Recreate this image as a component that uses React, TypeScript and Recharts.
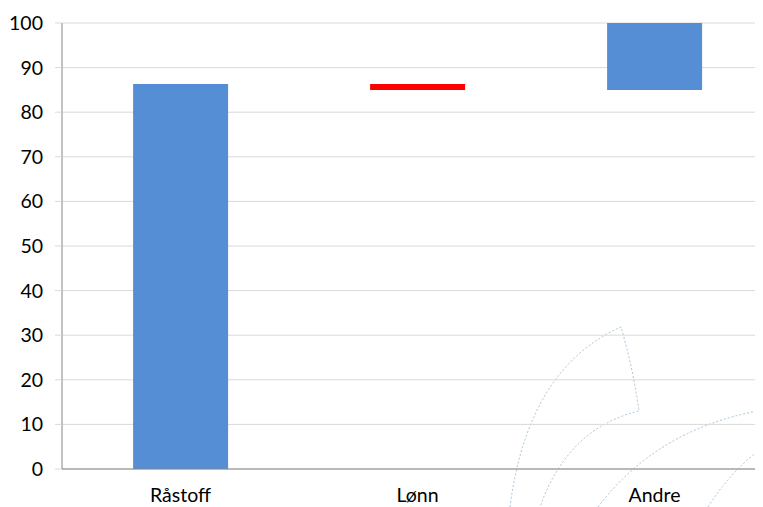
import { BarChart, Bar, XAxis, YAxis, CartesianGrid, Cell } from 'recharts';

// waterfall: invisible base + visible step
const categories = ['Råstoff', 'Lønn', 'Andre'];
const baseValues = [0, 85, 85];
const stepValues = [86.3, 1.3, 15];
const stepColors = ['#558ED5', '#FF0000', '#558ED5'];
const yTicks = [0, 10, 20, 30, 40, 50, 60, 70, 80, 90, 100];

const data = categories.map((name, i) => ({
  name,
  base: baseValues[i],
  step: stepValues[i],
}));

const font = 'Lato, "Open Sans", sans-serif';

// faint dotted watermark shapes in the lower right corner
const Watermark = () => (
  <svg
    width={755}
    height={499}
    style={{ position: 'absolute', left: 0, top: 0, pointerEvents: 'none' }}
  >
    <g fill="none" stroke="#A9C3D6" strokeWidth={1} strokeDasharray="2 2">
      <path d="M 502 499 Q 520 360 613 319 Q 625 360 631 403 Q 560 420 532 499" />
      <path d="M 590 499 Q 650 420 755 402" />
      <path d="M 700 499 Q 725 460 755 440" />
    </g>
  </svg>
);

const App = () => {
  return (
    <div style={{ position: 'relative', width: 755, height: 499, overflow: 'hidden' }}>
      <Watermark />
      <BarChart
        width={765}
        height={499}
        data={data}
        margin={{ top: 15, right: 0, bottom: 8, left: 0 }}
        barCategoryGap="30%"
        style={{ position: 'relative' }}
      >
        <CartesianGrid vertical={false} stroke="#D9D9D9" />
        <XAxis
          dataKey="name"
          height={30}
          axisLine={{ stroke: '#868686' }}
          tickLine={false}
          tickSize={0}
          tickMargin={19}
          tick={{ fill: '#000', fontSize: 19.5, fontFamily: font }}
        />
        <YAxis
          width={54}
          domain={[0, 100]}
          ticks={yTicks}
          interval={0}
          axisLine={{ stroke: '#868686' }}
          tickLine={{ stroke: '#D9D9D9' }}
          tickSize={7}
          tickMargin={12}
          tick={{ fill: '#000', fontSize: 19.5, fontFamily: font }}
        />
        <Bar dataKey="base" stackId="w" fill="transparent" isAnimationActive={false} />
        <Bar dataKey="step" stackId="w" isAnimationActive={false}>
          {data.map((d, i) => (
            <Cell key={d.name} fill={stepColors[i]} />
          ))}
        </Bar>
      </BarChart>
    </div>
  );
};

export default App;
